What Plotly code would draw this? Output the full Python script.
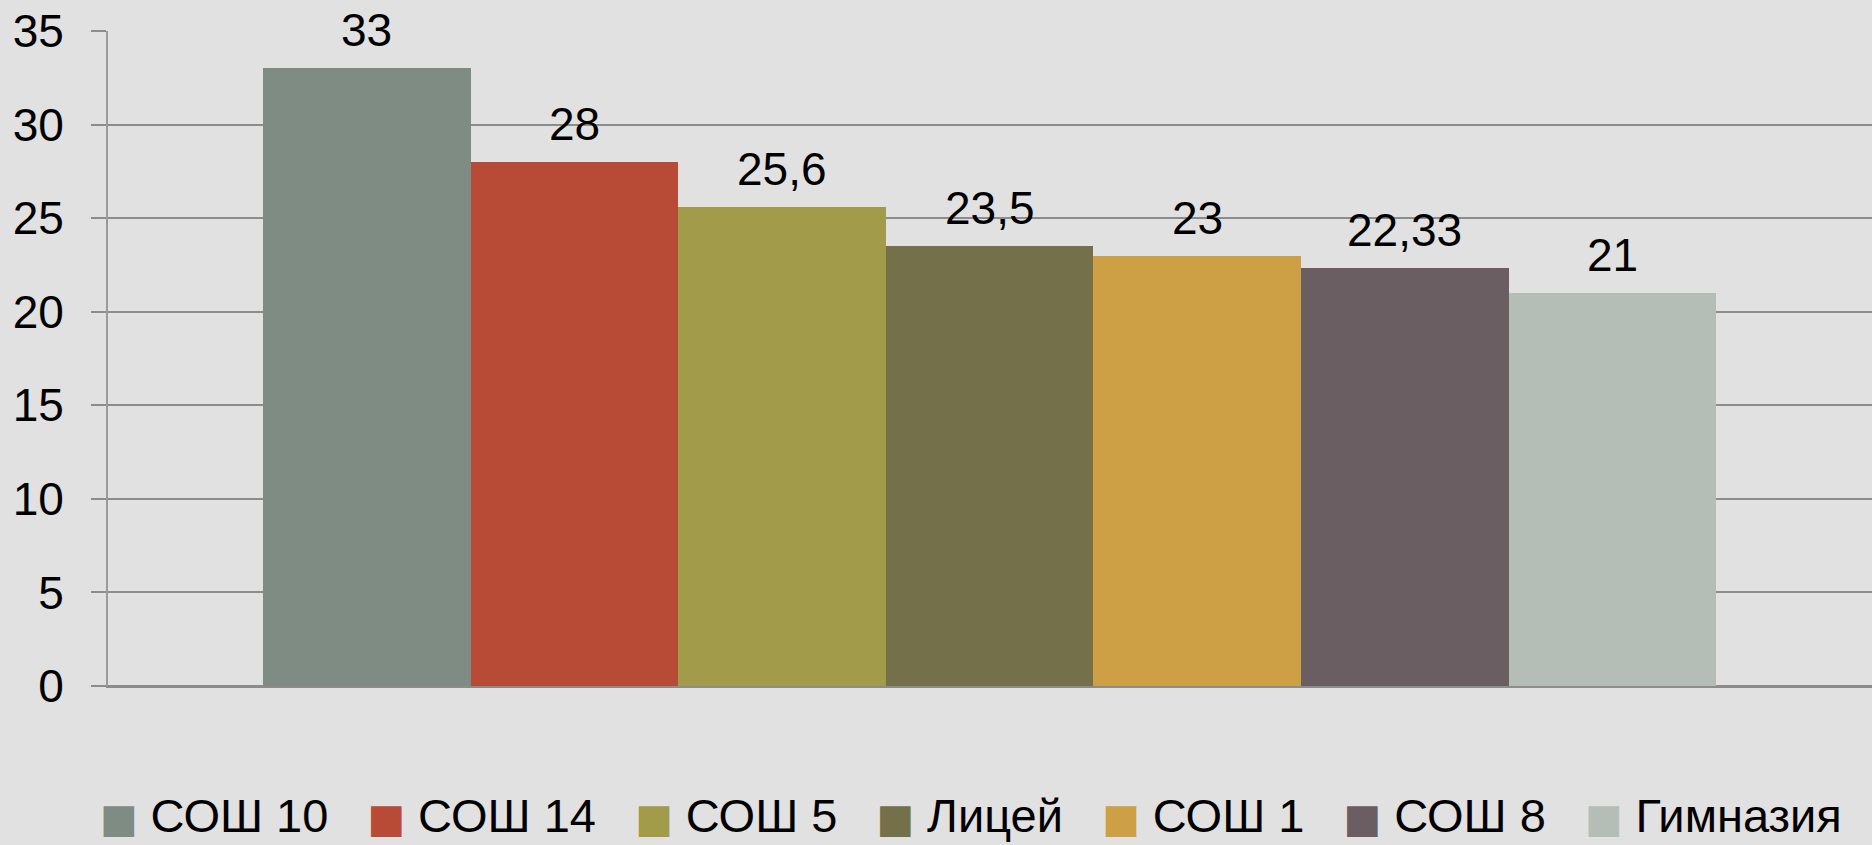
import plotly.graph_objects as go

schools = ["СОШ 10", "СОШ 14", "СОШ 5", "Лицей", "СОШ 1", "СОШ 8", "Гимназия"]
values = [33, 28, 25.6, 23.5, 23, 22.33, 21]
colors = ["#7F8C84", "#B84B36", "#A29B4A", "#74704A", "#CDA045", "#6A5E62", "#B5BDB7"]
y_ticks = [0, 5, 10, 15, 20, 25, 30, 35]

FONT = "Liberation Sans"
BG = "#E1E1E1"
GRID = "#8C8C8C"

fig = go.Figure()
fig.add_trace(go.Bar(
    x=schools, y=values,
    marker=dict(color=colors, line=dict(width=0)),
    showlegend=False, hoverinfo="x+y",
))

annotations = []
for s, v in zip(schools, values):
    annotations.append(dict(
        x=s, y=v, xref="x", yref="y",
        text=str(v).replace(".", ","),
        showarrow=False, yanchor="middle", yshift=38,
        font=dict(family=FONT, size=46, color="#000000"),
    ))

nb = "\u00a0"
legend_parts = []
for s, c in zip(schools, colors):
    legend_parts.append(
        f"<span style='font-family:DejaVu Sans;font-size:40px;color:{c}'>■{nb}</span>{s}"
    )
legend_text = (nb * 3).join(legend_parts)
annotations.append(dict(
    x=0.489, y=-0.198, xref="paper", yref="paper",
    xanchor="center", yanchor="middle",
    text=legend_text, showarrow=False,
    font=dict(family=FONT, size=47, color="#000000"),
))

fig.update_layout(
    width=1872, height=845,
    margin=dict(l=108, r=0, t=31, b=159),
    paper_bgcolor=BG, plot_bgcolor=BG,
    bargap=0,
    font=dict(family=FONT, size=46, color="#000000"),
    annotations=annotations,
    xaxis=dict(
        type="category", range=[-1.247, 7.25],
        showticklabels=False, showgrid=False, ticks="",
        showline=True, linecolor=GRID, linewidth=2,
        fixedrange=True,
    ),
    yaxis=dict(
        range=[0, 35], tickvals=y_ticks,
        showgrid=True, gridcolor=GRID, gridwidth=2,
        zeroline=True, zerolinecolor=GRID, zerolinewidth=2,
        showline=True, linecolor="#9A9A9A", linewidth=2,
        ticks="outside", ticklen=15, tickcolor=GRID, tickwidth=2,
        ticklabelstandoff=18,
        tickfont=dict(family=FONT, size=46, color="#000000"),
        fixedrange=True,
    ),
)

fig.write_html(
    "out.html",
    config={"displayModeBar": False},
    post_script="document.body.style.margin='0';document.body.style.overflow='hidden';",
)
